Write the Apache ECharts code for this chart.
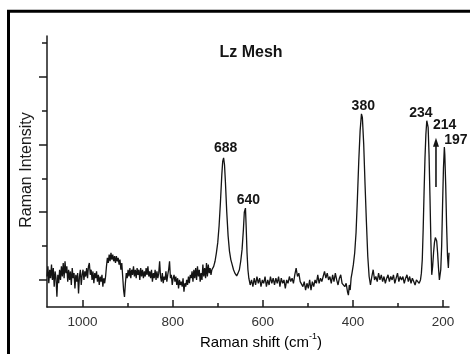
<!DOCTYPE html>
<html><head><meta charset="utf-8">
<script src="https://cdn.jsdelivr.net/npm/echarts@6/dist/echarts.min.js"></script>
<style>html,body{margin:0;padding:0;background:#fff}#c{width:470px;height:354px}</style>
</head><body><div id="c"></div>
<script>
// Raman spectrum: [shift (cm-1), intensity (arb. units)]
const spectrum = [
[1079,0.1],[1077,0.4],[1075,-0.1],[1073,0.3],[1071,0.05],[1069,0.45],[1067,0.0],[1065,0.35],[1063,-0.2],[1061,0.25],
[1059,0.05],[1057,-0.5],[1055,0.15],[1053,-0.1],[1051,0.3],[1049,0.0],[1047,0.4],[1045,0.1],[1043,0.5],[1041,0.05],
[1039,0.55],[1037,0.2],[1035,0.4],[1033,-0.05],[1031,0.3],[1029,0.0],[1027,0.25],[1025,-0.15],[1023,0.35],[1021,0.05],
[1019,0.2],[1017,-0.25],[1015,0.15],[1013,-0.05],[1011,0.2],[1009,-0.4],[1007,0.1],[1005,0.3],[1003,-0.15],[1001,0.15],
[999,0.3],[997,0.0],[995,0.25],[993,0.1],[991,0.35],[989,0.05],[987,0.4],[985,0.5],[983,0.15],[981,0.3],
[979,0.0],[977,0.25],[975,-0.1],[973,0.2],[971,0.05],[969,0.25],[967,-0.05],[965,0.15],[963,-0.15],[961,0.1],
[959,-0.05],[957,0.15],[955,-0.2],[953,0.05],[951,-0.1],[949,0.1],
[947,0.4],[945,0.65],[943,0.5],[941,0.75],[939,0.55],[937,0.8],[935,0.6],[933,0.75],[931,0.55],[929,0.7],
[927,0.5],[925,0.7],[923,0.55],[921,0.65],[919,0.45],[917,0.6],[915,0.3],[913,0.5],[911,0.1],[909,-0.3],
[907,-0.5],[905,-0.1],[903,0.2],[901,0.05],[899,0.3],
[897,0.1],[895,0.35],[893,0.05],[891,0.3],[889,0.15],[887,0.4],[885,0.1],[883,0.3],[881,0.05],[879,0.35],
[877,0.15],[875,0.3],[873,0.0],[871,0.35],[869,0.1],[867,0.3],[865,0.05],[863,0.25],[861,0.1],[859,0.35],
[857,0.15],[855,0.4],[853,0.1],[851,0.25],[849,0.05],[847,0.3],[845,-0.05],[843,0.2],[841,0.05],[839,0.3],
[837,0.0],[835,0.25],[833,0.05],[831,0.2],[829,0.55],[827,0.1],[825,-0.05],[823,0.2],[821,-0.1],[819,0.1],
[817,0.0],[815,0.25],[813,-0.05],[811,0.15],[809,0.3],[807,0.55],[805,0.05],[803,0.15],[801,-0.15],[799,0.05],
[797,0.15],[795,-0.05],[793,0.1],[791,-0.15],[789,0.05],[787,-0.25],[785,0.0],[783,-0.15],[781,-0.05],[779,-0.2],
[777,0.05],[775,-0.35],[773,-0.1],[771,-0.2],[769,0.0],[767,-0.15],[765,0.1],[763,-0.1],[761,0.15],
[759,0.05],[757,0.25],[755,-0.05],[753,0.3],[751,0.05],[749,0.35],[747,0.0],[745,0.4],[743,0.1],[741,0.3],
[739,-0.05],[737,0.2],[735,0.0],[733,0.45],[731,0.1],[729,0.35],[727,0.05],[725,0.5],[723,0.1],[721,0.45],
[719,0.2],[717,0.35],[715,0.15],[713,0.3],[711,0.25],
[709,0.4],[706,0.55],[703,0.8],[700,1.1],[697,1.6],[694,2.3],[691,3.1],[689,3.5],[687,3.6],[685,3.4],
[683,2.9],[680,2.0],[677,1.3],[674,0.85],[671,0.6],[668,0.45],[665,0.3],[662,0.2],[658,0.12],[655,0.2],
[652,0.3],[649,0.55],[646,0.9],[643,1.5],[641,2.0],[638.5,2.12],[637,1.6],[635,0.8],[633,0.3],[631,0.05],
[628,-0.15],[625,0.0],[622,-0.2],[619,0.05],[616,-0.15],[613,0.1],[610,-0.1],[607,0.05],[604,-0.2],[601,0.0],
[598,-0.1],[595,0.1],[592,-0.2],[589,0.0],[586,-0.15],[583,0.1],[580,-0.1],[577,0.05],[574,-0.15],[571,0.05],
[568,-0.1],[565,0.1],[562,-0.2],[559,0.05],[556,-0.1],[553,0.0],[550,-0.25],[547,0.0],[544,-0.1],[541,0.1],
[538,-0.05],[535,0.05],[532,-0.1],[529,0.15],[526,0.35],[523,0.1],[520,0.2],[517,-0.05],[514,0.0],[511,-0.2],
[508,-0.05],[505,-0.3],[502,-0.1],[499,-0.25],[496,0.0],[493,-0.3],[490,-0.05],[487,-0.2],[484,0.0],[481,-0.1],
[478,0.15],[475,-0.1],[472,0.05],[469,-0.05],[466,0.1],[463,0.25],[460,0.05],[457,0.2],[454,0.0],[451,0.1],
[448,-0.1],[445,0.15],[442,-0.05],[439,0.2],[436,0.0],[433,-0.15],[430,0.05],[427,0.15],[424,-0.1],[421,-0.05],
[418,-0.2],[415,-0.1],[412,-0.35],[410,-0.45],[408,-0.15],[406,-0.3],[404,0.05],
[402,0.2],[399,0.45],[396,0.8],[393,1.4],[390,2.4],[387,3.5],[384,4.4],[381,4.9],[379,4.8],[376,4.0],
[373,2.8],[370,1.7],[367,0.7],[364,0.1],[361,-0.15],[358,0.1],[355,0.3],[352,0.0],
[349,0.1],[346,-0.05],[343,0.2],[340,0.0],[337,0.15],[334,-0.05],[331,0.1],[328,-0.1],[325,0.05],[322,0.15],
[319,-0.05],[316,0.1],[313,0.0],[310,0.15],[307,-0.1],[304,0.05],[301,0.2],[298,-0.05],[295,0.1],[292,0.0],
[289,0.1],[286,-0.1],[283,0.05],[280,0.15],[277,-0.05],[274,0.1],[271,-0.1],[268,0.05],[265,-0.05],[262,-0.15],
[259,0.0],[256,0.05],[253,-0.1],[250,0.0],
[248,0.2],[246,0.6],[244,1.5],[242,2.6],[240,3.6],[238,4.3],[236,4.7],[234.9,4.75],[233,4.5],[231,3.7],
[229,2.5],[227,1.2],[225,0.15],[223,0.4],[221,0.8],[219,1.1],[217,1.25],[215.6,1.27],[214,1.15],[212,0.8],
[210,0.35],[208,0.0],[206.7,-0.05],[205,0.3],[203,1.0],[201,2.2],[199,3.3],[197,3.92],[196,3.7],[194,2.8],
[192,1.6],[190,0.7],[188.1,0.35],[187.3,0.6],[186.7,0.8]
];
const xMajorTicks = [1000, 800, 600, 400, 200];
const xMinorTicks = [900, 700, 500, 300];
const yMajorTicks = [0, 2, 4, 6];
const yMinorTicks = [1, 3, 5, 7];
const peakLabels = ['688', '640', '380', '234', '214', '197'];
const peakTops = [[687, 3.6], [638.5, 2.12], [380.5, 4.9], [234.9, 4.75], [215.6, 4.2], [197, 3.92]];
const arrow214 = [[215.6, 2.74], [215.6, 4.2]];
const chartTitle = 'Lz Mesh';
const xTitle = ['Raman shift (cm', '-1', ')'];
const yTitle = 'Raman Intensity';

const FONT = "'Liberation Sans', Arial, Helvetica, sans-serif";
const chart = echarts.init(document.getElementById('c'), null, {renderer: 'canvas'});
const axisCommon = {min: 186.7, max: 1079, inverse: true, type: 'value'};
chart.setOption({
  animation: false,
  backgroundColor: '#fff',
  grid: {left: 47, right: 21, top: 36, bottom: 47, containLabel: false},
  xAxis: [
    Object.assign({}, axisCommon, {
      splitLine: {show: false},
      axisLine: {show: true, onZero: false, lineStyle: {color: '#1a1a1a', width: 1.5}},
      axisTick: {show: true, inside: true, length: 7, customValues: xMajorTicks, lineStyle: {color: '#1a1a1a', width: 1.5}},
      axisLabel: {show: true, customValues: xMajorTicks, margin: 8, color: '#333', fontSize: 13.5, fontFamily: FONT,
        formatter: function (v) { return String(v); }}
    }),
    Object.assign({}, axisCommon, {
      position: 'bottom', offset: 0,
      splitLine: {show: false},
      axisLine: {show: false, onZero: false},
      axisTick: {show: true, inside: true, length: 4, customValues: xMinorTicks, lineStyle: {color: '#1a1a1a', width: 1.5}},
      axisLabel: {show: false}
    })
  ],
  yAxis: [
    {type: 'value', min: -0.8, max: 7.2, position: 'left',
      splitLine: {show: false},
      axisLine: {show: true, onZero: false, lineStyle: {color: '#1a1a1a', width: 1.5}},
      axisTick: {show: true, inside: false, length: 8, customValues: yMajorTicks, lineStyle: {color: '#1a1a1a', width: 1.5}},
      axisLabel: {show: false}
    },
    {type: 'value', min: -0.8, max: 7.2, position: 'left', offset: 0,
      splitLine: {show: false},
      axisLine: {show: false, onZero: false},
      axisTick: {show: true, inside: false, length: 5, customValues: yMinorTicks, lineStyle: {color: '#1a1a1a', width: 1.5}},
      axisLabel: {show: false}
    }
  ],
  series: [{
    type: 'line', xAxisIndex: 0, yAxisIndex: 0,
    data: spectrum, showSymbol: false, symbol: 'none', smooth: false, clip: false,
    lineStyle: {color: '#141414', width: 1.3}
  }]
});

function px(p) { return chart.convertToPixel({xAxisIndex: 0, yAxisIndex: 0}, p); }
const labelOffsets = [[2, -9.5], [3, -8], [1.6, -8], [-6.4, -6], [8.7, -12], [11.5, -7.4]];
const graphics = [];
graphics.push({type: 'rect', silent: true, shape: {x: 8.5, y: 11.2, width: 700, height: 700},
  style: {fill: 'none', stroke: '#000', lineWidth: 3}});
graphics.push({type: 'text', style: {text: chartTitle, x: 251, y: 53, font: 'bold 16px ' + FONT,
  fill: '#151515', textAlign: 'center', textVerticalAlign: 'middle', verticalAlign: 'middle'}});
peakLabels.forEach(function (lab, i) {
  const p = px(peakTops[i]);
  graphics.push({type: 'text', style: {text: lab, x: p[0] + labelOffsets[i][0], y: p[1] + labelOffsets[i][1],
    font: 'bold 14px ' + FONT, fill: '#151515', textAlign: 'center', textVerticalAlign: 'middle', verticalAlign: 'middle'}});
});
const a0 = px(arrow214[0]), a1 = px(arrow214[1]);
graphics.push({type: 'line', shape: {x1: a0[0], y1: a0[1], x2: a1[0], y2: a1[1] + 6}, style: {stroke: '#151515', lineWidth: 1.6}});
graphics.push({type: 'polygon', shape: {points: [[a1[0], a1[1]], [a1[0] - 3, a1[1] + 9], [a1[0] + 3, a1[1] + 9]]}, style: {fill: '#151515'}});
graphics.push({type: 'text', style: {
  text: '{m|' + xTitle[0] + '}{s|' + xTitle[1] + '}{m|' + xTitle[2] + '}',
  x: 261, y: 341, textAlign: 'center', textVerticalAlign: 'middle', verticalAlign: 'middle',
  rich: {
    m: {fontSize: 15, fontFamily: FONT, color: '#151515', lineHeight: 18, verticalAlign: 'bottom'},
    s: {fontSize: 9, fontFamily: FONT, color: '#151515', lineHeight: 9, verticalAlign: 'top'}
  }
}});
graphics.push({type: 'text', rotation: Math.PI / 2, x: 27, y: 170, style: {text: yTitle, x: 0, y: 0,
  font: '16px ' + FONT, fill: '#1a1a1a', textAlign: 'center', textVerticalAlign: 'middle', verticalAlign: 'middle'}});
chart.setOption({graphic: graphics});
</script>
</body></html>
